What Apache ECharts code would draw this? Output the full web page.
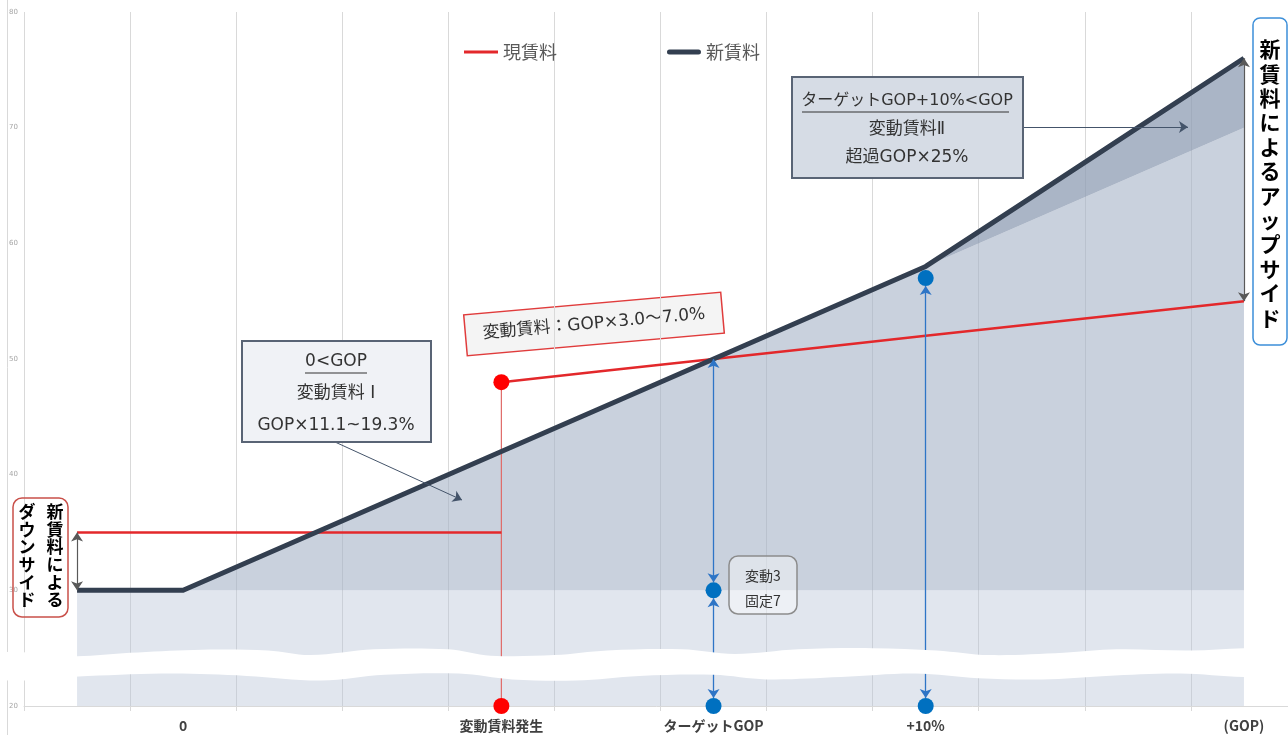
<!DOCTYPE html>
<html><head><meta charset="utf-8">
<script src="https://cdn.jsdelivr.net/npm/echarts@6/dist/echarts.min.js"></script>
<style>html,body{margin:0;padding:0;background:#fff}#c{width:1288px;height:735px}</style>
</head><body><div id="c"></div>
<script>
// ---- data ----
const categories = ['', '0', '', '', '変動賃料発生', '', 'ターゲットGOP', '', '+10%', '', '', '(GOP)'];
const yMin = 20, yMax = 80, yInterval = 10;
const baseRent = [30, 30, 30, 30, 30, 30, 30, 30, 30, 30, 30, 30];
const variableRentI = [30, 30, 34, 38, 42, 46, 50, 54, 58, 62, 66, 70];
const newRent = [30, 30, 34, 38, 42, 46, 50, 54, 58, 64, 70, 76];
const currentRentFixed = [35, 35, 35, 35, 35, null, null, null, null, null, null, null];
const currentRentVariable = [null, null, null, null, 48, 49, 50, 51, 52, 53, 54, 55];
const redDrop = [[4, 48], [4, 20]];
const redPoints = [[4, 48], [4, 20]];
const bluePoints = [[6, 30], [6, 20], [8, 57], [8, 20]];
const blueArrows = [[6, 20, 30], [6, 30, 50], [8, 20, 57]];
const grayArrows = [[0, 30, 35], [11, 55, 76]];
// decorative break band (x on 0..12 scale, y in value units)
const bandTop = [[-0.3,24.5],[0.5,24.3],[1.0,24.6],[1.6,24.85],[2.3,24.8],[2.7,24.4],[3.3,24.9],[4.0,24.9],[4.4,24.35],[5.0,24.4],[5.5,24.8],[6.2,24.9],[6.7,24.5],[7.3,24.9],[8.0,25.0],[8.6,24.8],[9.1,24.4],[9.8,24.6],[10.3,24.9],[11.0,24.8],[11.5,25.0],[12.3,25.0]];
const bandBottom = [[-0.3,22.4],[0.6,22.6],[1.4,22.8],[2.1,22.6],[2.8,22.2],[3.4,22.7],[4.1,22.8],[4.6,22.3],[5.2,22.2],[5.8,22.6],[6.5,22.7],[7.0,22.3],[7.7,22.5],[8.4,22.8],[9.0,22.4],[9.6,22.3],[10.2,22.6],[10.9,22.8],[11.5,22.5],[12.3,22.6]];

// ---- chart ----
const chart = echarts.init(document.getElementById('c'));
const LAT = '"DejaVu Sans","Noto Sans CJK JP",sans-serif';
const JP = '"Noto Sans CJK JP",sans-serif';
const diff = (a, b) => a.map((v, i) => v - b[i]);
const pxPerUnit = (735 - 12 - 29) / (yMax - yMin);
const dotR = 8;
const off = dotR / pxPerUnit;
const isDot = (c, v) => bluePoints.some(p => p[0] === c && p[1] === v);

const blueLines = blueArrows.map(([c, a, b]) => [
  { coord: [c, isDot(c, a) ? a + off : a] },
  { coord: [c, isDot(c, b) ? b - off : b] }
]);
const grayLines = grayArrows.map(([c, a, b]) => [{ coord: [c, a] }, { coord: [c, b] }]);

const noEmph = { disabled: true };

const option = {
  animation: false,
  backgroundColor: '#fff',
  grid: { left: 24, width: 1273, top: 12, bottom: 29, outerBoundsMode: 'none', containLabel: false },
  legend: {
    data: [
      { name: '現賃料', icon: 'path://M0 0H34V3H0Z' },
      { name: '新賃料', icon: 'path://M2.5 0H31.5A2.5 2.5 0 0 1 31.5 5H2.5A2.5 2.5 0 0 1 2.5 0Z' }
    ],
    left: 459, top: 38,
    itemWidth: 34, itemHeight: 14, itemGap: 110,
    textStyle: { fontSize: 18, color: '#595959', fontFamily: JP }
  },
  xAxis: [{
    type: 'category', data: categories, boundaryGap: true,
    axisLine: { lineStyle: { color: '#d9d9d9' } },
    axisTick: { show: true, length: 5, interval: 0, lineStyle: { color: '#d9d9d9' } },
    splitLine: { show: true, interval: 0, lineStyle: { color: '#d9d9d9', width: 1 } },
    axisLabel: { interval: 0, margin: 13, fontSize: 14, fontWeight: 'bold', color: '#404040', fontFamily: JP }
  }, {
    type: 'value', min: 0, max: 12, show: false
  }],
  yAxis: {
    type: 'value', min: yMin, max: yMax, interval: yInterval,
    splitLine: { show: false }, axisLine: { show: false }, axisTick: { show: false },
    axisLabel: { fontSize: 7, color: '#a6a6a6', margin: 6, fontFamily: LAT }
  },
  series: [
    { type: 'line', stack: 'area', data: baseRent, symbol: 'none', silent: true, z: 1,
      lineStyle: { width: 0 }, areaStyle: { color: 'rgba(184,196,214,0.42)', opacity: 1 }, emphasis: noEmph },
    { type: 'line', stack: 'area', data: diff(variableRentI, baseRent), symbol: 'none', silent: true, z: 1,
      lineStyle: { width: 0 }, areaStyle: { color: 'rgba(165,178,198,0.6)', opacity: 1 }, emphasis: noEmph },
    { type: 'line', stack: 'area', data: diff(newRent, variableRentI), symbol: 'none', silent: true, z: 1,
      lineStyle: { width: 0 }, areaStyle: { color: 'rgba(142,156,179,0.75)', opacity: 1 }, emphasis: noEmph },
    { name: '現賃料', type: 'line', data: currentRentFixed, symbol: 'none', z: 3,
      lineStyle: { color: '#e3282b', width: 2.5 }, itemStyle: { color: '#e3282b' }, emphasis: noEmph },
    { name: '現賃料', type: 'line', data: currentRentVariable, symbol: 'none', z: 3,
      lineStyle: { color: '#e3282b', width: 2.5 }, itemStyle: { color: '#e3282b' }, emphasis: noEmph },
    { type: 'line', data: redDrop, symbol: 'none', z: 2,
      lineStyle: { color: '#e06a68', width: 1.2 }, emphasis: noEmph },
    { name: '新賃料', type: 'line', data: newRent, symbol: 'none', z: 4,
      lineStyle: { color: '#333f50', width: 5, join: 'round' }, itemStyle: { color: '#333f50' }, emphasis: noEmph },
    { type: 'line', data: [], z: 3, silent: true,
      markLine: { silent: true, symbol: ['arrow', 'arrow'], symbolSize: 9, label: { show: false },
        lineStyle: { color: '#2e75c6', width: 1.3, type: 'solid' }, emphasis: noEmph, data: blueLines } },
    { type: 'line', data: [], z: 3, silent: true,
      markLine: { silent: true, symbol: ['arrow', 'arrow'], symbolSize: 9, label: { show: false },
        lineStyle: { color: '#595959', width: 1.2, type: 'solid' }, emphasis: noEmph, data: grayLines } },
    { type: 'line', data: [], z: 3, silent: true,
      markLine: { silent: true, symbol: ['none', 'arrow'], symbolSize: 9, label: { show: false },
        lineStyle: { color: '#44546a', width: 1, type: 'solid' }, emphasis: noEmph,
        data: [[{ x: 335, y: 442 }, { x: 462, y: 500 }], [{ x: 1023, y: 127 }, { x: 1188, y: 127 }]] } },
    { type: 'custom', xAxisIndex: 1, data: [[0, 0]], z: 5, silent: true, clip: false,
      renderItem: (params, api) => {
        const pts = bandTop.map(p => api.coord(p)).concat(bandBottom.slice().reverse().map(p => api.coord(p)));
        return { type: 'polygon', shape: { points: pts, smooth: 0.35 }, style: { fill: '#ffffff' } };
      } },
    { type: 'scatter', data: redPoints, symbolSize: 16, z: 6, itemStyle: { color: '#ff0000', opacity: 1 }, emphasis: noEmph },
    { type: 'scatter', data: bluePoints, symbolSize: 16, z: 6, itemStyle: { color: '#0070c0', opacity: 1 }, emphasis: noEmph }
  ],
  graphic: [
    { type: 'line', shape: { x1: 7.5, y1: 0, x2: 7.5, y2: 735 }, style: { stroke: '#d9d9d9', lineWidth: 1 }, silent: true },
    // box 1
    { type: 'rect', shape: { x: 242, y: 341, width: 189, height: 101 }, style: { fill: '#f0f2f6', stroke: '#596475', lineWidth: 2 }, z: 20 },
    { type: 'text', x: 336, y: 362, style: { text: '0<GOP', font: '17px ' + LAT, fill: '#333', align: 'center', verticalAlign: 'middle' }, z: 21 },
    { type: 'line', shape: { x1: 305, y1: 373, x2: 367, y2: 373 }, style: { stroke: '#333', lineWidth: 1 }, z: 21 },
    { type: 'text', x: 336, y: 394, style: { text: '変動賃料 I', font: '17px ' + LAT, fill: '#333', align: 'center', verticalAlign: 'middle' }, z: 21 },
    { type: 'text', x: 336, y: 426, style: { text: 'GOP×11.1~19.3%', font: '17px ' + LAT, fill: '#333', align: 'center', verticalAlign: 'middle' }, z: 21 },
    // box 2
    { type: 'rect', shape: { x: 792, y: 77, width: 231, height: 101 }, style: { fill: '#d6dce5', stroke: '#596475', lineWidth: 2 }, z: 20 },
    { type: 'text', x: 907, y: 101, style: { text: 'ターゲットGOP+10%<GOP', font: '16px ' + LAT, fill: '#333', align: 'center', verticalAlign: 'middle' }, z: 21 },
    { type: 'line', shape: { x1: 802, y1: 112, x2: 1009, y2: 112 }, style: { stroke: '#333', lineWidth: 1 }, z: 21 },
    { type: 'text', x: 907, y: 130, style: { text: '変動賃料Ⅱ', font: '17px ' + LAT, fill: '#333', align: 'center', verticalAlign: 'middle' }, z: 21 },
    { type: 'text', x: 907, y: 158, style: { text: '超過GOP×25%', font: '17px ' + LAT, fill: '#333', align: 'center', verticalAlign: 'middle' }, z: 21 },
    // box 3 (rotated, red)
    { type: 'group', x: 594, y: 324, rotation: 0.088, z: 20, children: [
      { type: 'rect', shape: { x: -129, y: -20.5, width: 258, height: 41 }, style: { fill: '#f4f4f4', stroke: '#e03c3c', lineWidth: 1.5 } },
      { type: 'text', x: 0, y: 0, style: { text: '変動賃料：GOP×3.0〜7.0%', font: '17px ' + LAT, fill: '#333', align: 'center', verticalAlign: 'middle' } }
    ] },
    // box 4
    { type: 'rect', shape: { x: 729, y: 556, width: 68, height: 58, r: 9 }, style: { fill: 'rgba(255,255,255,0.4)', stroke: '#8c8c8c', lineWidth: 1.5 }, z: 20 },
    { type: 'text', x: 763, y: 576, style: { text: '変動3', font: '14px ' + JP, fill: '#333', align: 'center', verticalAlign: 'middle' }, z: 21 },
    { type: 'text', x: 763, y: 601, style: { text: '固定7', font: '14px ' + JP, fill: '#333', align: 'center', verticalAlign: 'middle' }, z: 21 },
    // box 5 (left, vertical)
    { type: 'rect', shape: { x: 13, y: 498, width: 55, height: 119, r: 9 }, style: { fill: 'rgba(255,255,255,0)', stroke: '#c9504a', lineWidth: 1.5 }, z: 20 },
    { type: 'text', x: 55, y: 503, style: { text: '新賃料による'.split('').join('\n'), font: 'bold 17px ' + JP, lineHeight: 17.6, fill: '#000', align: 'center', verticalAlign: 'top' }, z: 21 },
    { type: 'text', x: 27, y: 503, style: { text: 'ダウンサイド'.split('').join('\n'), font: 'bold 17px ' + JP, lineHeight: 17.6, fill: '#000', align: 'center', verticalAlign: 'top' }, z: 21 },
    // box 6 (right, vertical)
    { type: 'rect', shape: { x: 1253, y: 18, width: 34, height: 327, r: 7 }, style: { fill: '#fff', stroke: '#3d8fd9', lineWidth: 1.5 }, z: 20 },
    { type: 'text', x: 1270, y: 37, style: { text: '新賃料によるアップサイド'.split('').join('\n'), font: 'bold 21px ' + JP, lineHeight: 24.4, fill: '#000', align: 'center', verticalAlign: 'top' }, z: 21 }
  ]
};
chart.setOption(option);
</script>
</body></html>
